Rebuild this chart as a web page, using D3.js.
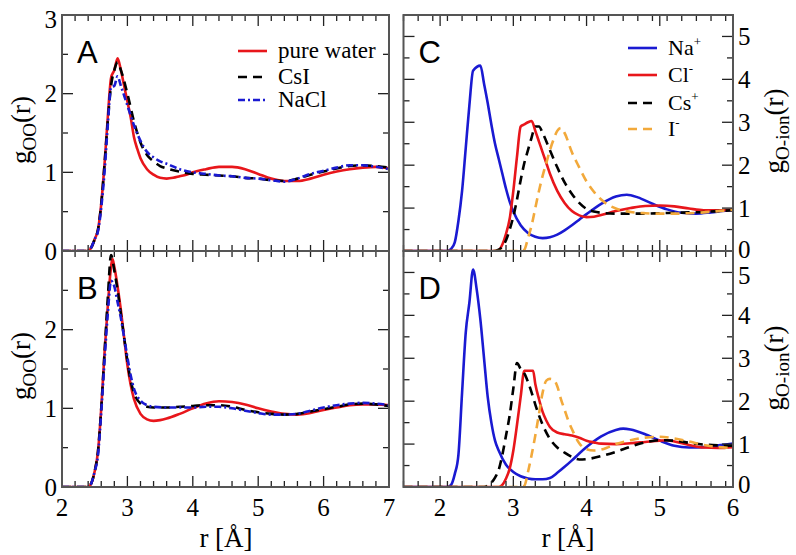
<!DOCTYPE html>
<html><head><meta charset="utf-8">
<script src="https://cdn.jsdelivr.net/npm/d3@7"></script>
<style>
body{margin:0;background:#fff}
.serif{font-family:"Liberation Serif","Times New Roman",Times,serif}
.sans{font-family:"Liberation Sans",Arial,Helvetica,sans-serif}
</style>
</head><body>
<svg id="chart" width="796" height="555"></svg>
<script>
// ---------- DATA ----------
// Panel A : g_OO(r)
const A_water = [[2.0,0],[2.3,0],[2.4,0],[2.45,0.05],[2.5,0.15],[2.55,0.27],[2.6,0.6],[2.65,1.1],[2.7,1.7],[2.75,2.2],[2.8,2.3],[2.85,2.45],[2.9,2.3],[2.95,2.1],[3.0,1.9],[3.05,1.7],[3.1,1.45],[3.15,1.3],[3.2,1.18],[3.3,1.04],[3.4,0.97],[3.5,0.93],[3.6,0.92],[3.7,0.93],[3.8,0.95],[3.9,0.97],[4.0,1.0],[4.2,1.04],[4.4,1.07],[4.6,1.07],[4.8,1.04],[5.0,0.98],[5.2,0.92],[5.4,0.89],[5.6,0.89],[5.8,0.92],[6.0,0.97],[6.2,1.01],[6.4,1.04],[6.6,1.06],[6.8,1.07],[7.0,1.05]];
const A_CsI = [[2.0,0],[2.4,0],[2.45,0.05],[2.5,0.15],[2.55,0.27],[2.6,0.6],[2.65,1.1],[2.7,1.65],[2.75,2.1],[2.8,2.3],[2.85,2.4],[2.9,2.3],[3.0,2.0],[3.1,1.65],[3.2,1.38],[3.3,1.22],[3.4,1.14],[3.5,1.08],[3.6,1.05],[3.8,1.01],[4.0,0.98],[4.2,0.97],[4.4,0.96],[4.6,0.95],[4.8,0.93],[5.0,0.92],[5.2,0.9],[5.4,0.89],[5.6,0.92],[5.8,0.97],[6.0,1.01],[6.2,1.05],[6.4,1.08],[6.6,1.09],[6.8,1.08],[7.0,1.06]];
const A_NaCl = [[2.0,0],[2.4,0],[2.45,0.05],[2.5,0.15],[2.55,0.25],[2.6,0.55],[2.65,1.0],[2.7,1.6],[2.75,2.08],[2.8,2.1],[2.85,2.22],[2.9,2.1],[3.0,1.85],[3.1,1.6],[3.2,1.4],[3.3,1.26],[3.4,1.19],[3.5,1.14],[3.6,1.11],[3.8,1.04],[4.0,1.0],[4.2,0.98],[4.4,0.96],[4.6,0.95],[4.8,0.93],[5.0,0.92],[5.2,0.9],[5.4,0.88],[5.6,0.92],[5.8,0.98],[6.0,1.02],[6.2,1.06],[6.4,1.09],[6.6,1.09],[6.8,1.07],[7.0,1.04]];
// Panel B : g_OO(r)
const B_water = [[2.0,0],[2.4,0],[2.45,0.05],[2.5,0.2],[2.55,0.45],[2.6,1.0],[2.65,1.7],[2.7,2.3],[2.75,2.8],[2.77,2.9],[2.8,2.8],[2.85,2.55],[2.9,2.25],[2.95,1.9],[3.0,1.55],[3.05,1.3],[3.1,1.12],[3.2,0.93],[3.3,0.86],[3.4,0.84],[3.5,0.85],[3.6,0.87],[3.8,0.93],[4.0,1.0],[4.2,1.06],[4.4,1.09],[4.6,1.08],[4.8,1.05],[5.0,1.0],[5.2,0.96],[5.4,0.93],[5.6,0.92],[5.8,0.94],[6.0,0.98],[6.2,1.01],[6.4,1.04],[6.6,1.05],[6.8,1.05],[7.0,1.04]];
const B_CsI = [[2.0,0],[2.4,0],[2.45,0.05],[2.5,0.2],[2.55,0.45],[2.6,1.0],[2.65,1.7],[2.7,2.4],[2.75,2.95],[2.8,2.75],[2.85,2.5],[2.9,2.2],[2.95,1.9],[3.0,1.6],[3.05,1.35],[3.1,1.2],[3.2,1.06],[3.3,1.02],[3.4,1.01],[3.6,1.01],[3.8,1.02],[4.0,1.03],[4.2,1.04],[4.4,1.04],[4.6,1.02],[4.8,0.98],[5.0,0.95],[5.2,0.93],[5.4,0.92],[5.6,0.93],[5.8,0.96],[6.0,0.99],[6.2,1.02],[6.4,1.05],[6.6,1.06],[6.8,1.05],[7.0,1.03]];
const B_NaCl = [[2.0,0],[2.4,0],[2.45,0.05],[2.5,0.2],[2.55,0.4],[2.6,0.95],[2.65,1.6],[2.7,2.2],[2.75,2.62],[2.8,2.55],[2.85,2.35],[2.9,2.15],[2.95,1.9],[3.0,1.65],[3.05,1.42],[3.1,1.25],[3.2,1.1],[3.3,1.04],[3.4,1.02],[3.6,1.01],[3.8,1.01],[4.0,1.01],[4.2,1.02],[4.4,1.02],[4.6,1.0],[4.8,0.97],[5.0,0.94],[5.2,0.92],[5.4,0.92],[5.6,0.93],[5.8,0.97],[6.0,1.01],[6.2,1.04],[6.4,1.06],[6.6,1.07],[6.8,1.06],[7.0,1.04]];
// Panel C : g_O-ion(r)
const C_Na = [[1.5,0],[2.1,0],[2.15,0.05],[2.2,0.2],[2.25,0.7],[2.3,1.4],[2.35,2.4],[2.4,3.4],[2.45,4.2],[2.55,4.32],[2.6,3.9],[2.65,3.45],[2.7,2.95],[2.75,2.5],[2.8,2.15],[2.85,1.8],[2.9,1.45],[2.95,1.15],[3.0,0.92],[3.1,0.6],[3.2,0.42],[3.3,0.33],[3.4,0.3],[3.5,0.32],[3.6,0.38],[3.7,0.48],[3.8,0.6],[3.9,0.73],[4.0,0.86],[4.2,1.1],[4.4,1.27],[4.55,1.31],[4.7,1.25],[4.9,1.1],[5.1,0.97],[5.3,0.89],[5.5,0.87],[5.7,0.9],[5.9,0.94],[6.0,0.95]];
const C_Cl = [[1.5,0],[2.75,0],[2.8,0.02],[2.85,0.15],[2.9,0.4],[2.95,0.75],[3.0,1.4],[3.05,2.2],[3.1,2.9],[3.15,2.95],[3.2,3.0],[3.25,3.03],[3.3,2.8],[3.35,2.55],[3.4,2.3],[3.45,2.05],[3.5,1.8],[3.6,1.4],[3.7,1.12],[3.8,0.93],[3.9,0.83],[4.0,0.79],[4.1,0.8],[4.2,0.84],[4.4,0.93],[4.6,1.0],[4.8,1.05],[5.0,1.06],[5.2,1.04],[5.4,0.99],[5.6,0.95],[5.8,0.95],[6.0,0.96]];
const C_Cs = [[1.5,0],[2.75,0],[2.8,0.03],[2.85,0.1],[2.9,0.25],[2.95,0.5],[3.0,0.8],[3.05,1.2],[3.1,1.65],[3.15,2.05],[3.2,2.35],[3.25,2.65],[3.3,2.9],[3.35,2.9],[3.4,2.75],[3.5,2.35],[3.6,1.95],[3.7,1.6],[3.8,1.33],[3.9,1.12],[4.0,0.98],[4.1,0.92],[4.2,0.89],[4.4,0.87],[4.6,0.87],[4.8,0.87],[5.0,0.88],[5.2,0.89],[5.4,0.9],[5.6,0.91],[5.8,0.93],[6.0,0.95]];
const C_I = [[1.5,0],[3.1,0],[3.15,0.03],[3.2,0.3],[3.25,0.6],[3.3,1.0],[3.35,1.4],[3.4,1.75],[3.45,2.05],[3.5,2.35],[3.55,2.6],[3.6,2.8],[3.65,2.87],[3.7,2.75],[3.8,2.3],[3.9,1.95],[4.0,1.62],[4.1,1.38],[4.2,1.2],[4.3,1.07],[4.4,0.99],[4.6,0.91],[4.8,0.88],[5.0,0.87],[5.2,0.87],[5.4,0.88],[5.6,0.9],[5.8,0.93],[6.0,0.96]];
// Panel D : g_O-ion(r)
const D_Na = [[1.5,0],[2.1,0],[2.15,0.05],[2.2,0.3],[2.25,0.75],[2.3,2.2],[2.35,3.6],[2.4,4.3],[2.45,5.07],[2.5,4.6],[2.55,3.9],[2.6,3.0],[2.65,2.1],[2.7,1.5],[2.75,1.08],[2.8,0.85],[2.9,0.52],[3.0,0.35],[3.1,0.25],[3.2,0.2],[3.3,0.18],[3.4,0.18],[3.5,0.21],[3.6,0.33],[3.7,0.47],[3.8,0.62],[3.9,0.78],[4.0,0.93],[4.2,1.18],[4.4,1.33],[4.5,1.36],[4.6,1.34],[4.8,1.23],[5.0,1.08],[5.2,0.96],[5.4,0.92],[5.6,0.93],[5.8,0.97],[6.0,1.01]];
const D_Cl = [[1.5,0],[2.8,0],[2.85,0.05],[2.9,0.2],[2.95,0.43],[3.0,0.85],[3.05,1.45],[3.1,2.1],[3.15,2.71],[3.27,2.71],[3.3,2.4],[3.35,2.05],[3.4,1.75],[3.45,1.55],[3.5,1.4],[3.6,1.27],[3.7,1.23],[3.8,1.2],[3.9,1.15],[4.0,1.08],[4.1,1.04],[4.2,1.01],[4.4,1.0],[4.6,1.02],[4.8,1.05],[5.0,1.08],[5.1,1.09],[5.2,1.06],[5.4,0.98],[5.6,0.92],[5.8,0.91],[6.0,0.93]];
const D_Cs = [[1.5,0],[2.6,0],[2.65,0.03],[2.7,0.1],[2.75,0.22],[2.8,0.4],[2.85,0.75],[2.9,1.2],[2.95,1.67],[3.0,2.3],[3.05,2.89],[3.1,2.75],[3.15,2.65],[3.2,2.45],[3.25,2.2],[3.3,1.92],[3.4,1.45],[3.5,1.12],[3.6,0.92],[3.7,0.8],[3.8,0.7],[3.9,0.64],[4.0,0.65],[4.2,0.72],[4.4,0.82],[4.6,0.94],[4.8,1.04],[5.0,1.09],[5.2,1.08],[5.4,1.03],[5.6,0.99],[5.8,0.97],[6.0,0.96]];
const D_I = [[1.5,0],[3.1,0],[3.15,0.03],[3.2,0.35],[3.25,0.75],[3.3,1.2],[3.35,1.7],[3.4,2.2],[3.45,2.48],[3.5,2.52],[3.55,2.5],[3.6,2.35],[3.65,2.05],[3.7,1.8],[3.75,1.55],[3.8,1.35],[3.9,1.02],[4.0,0.88],[4.1,0.85],[4.2,0.87],[4.3,0.93],[4.4,1.0],[4.6,1.09],[4.8,1.15],[5.0,1.17],[5.2,1.13],[5.4,1.06],[5.6,0.98],[5.8,0.93],[6.0,0.91]];

const leftXTicks = [2,3,4,5,6,7];
const rightXTicks = [2,3,4,5,6];
const leftYTicksA = [0,1,2,3];
const leftYTicksB = [0,1,2];
const rightYTicks = [0,1,2,3,4,5];
const legendLeft = ["pure water","CsI","NaCl"];
const legendRight = [["Na","+"],["Cl","-"],["Cs","+"],["I","-"]];

// ---------- STYLES ----------
const RED = "#e8161b", BLUE = "#1a1ad2", ORANGE = "#f2a93b", BLACK = "#000";
const styles = {
  water:{color:RED, dash:null},
  CsI:{color:BLACK, dash:"9,6"},
  NaCl:{color:BLUE, dash:"7,3,2,3"},
  Na:{color:BLUE, dash:null},
  Cl:{color:RED, dash:null},
  Cs:{color:BLACK, dash:"9,6"},
  I:{color:ORANGE, dash:"9,6"}
};

const svg = d3.select("#chart");

const xL = d3.scaleLinear().domain([2,7]).range([62,389]);
const xR = d3.scaleLinear().domain([1.5,6]).range([403.5,733]);
const yA = d3.scaleLinear().domain([0,3]).range([251,15]);
const yB = d3.scaleLinear().domain([0,3]).range([487,251]);
const yC = d3.scaleLinear().domain([0,5.5]).range([251,15]);
const yD = d3.scaleLinear().domain([0,5.5]).range([487,251]);

const panels = [
  {id:"A", x:xL, y:yA, series:[[A_water,"water"],[A_CsI,"CsI"],[A_NaCl,"NaCl"]]},
  {id:"B", x:xL, y:yB, series:[[B_water,"water"],[B_CsI,"CsI"],[B_NaCl,"NaCl"]]},
  {id:"C", x:xR, y:yC, series:[[C_Na,"Na"],[C_Cl,"Cl"],[C_Cs,"Cs"],[C_I,"I"]]},
  {id:"D", x:xR, y:yD, series:[[D_Na,"Na"],[D_Cl,"Cl"],[D_Cs,"Cs"],[D_I,"I"]]}
];

const defs = svg.append("defs");
const MAJ = 11, MIN = 6;

function range(a,b,s){const out=[];for(let v=a;v<=b+1e-9;v+=s)out.push(+v.toFixed(3));return out;}

panels.forEach(p=>{
  const [x0,x1] = p.x.range(), [y1,y0] = p.y.range();
  const g = svg.append("g");
  defs.append("clipPath").attr("id","clip"+p.id).append("rect")
    .attr("x",x0).attr("y",y0).attr("width",x1-x0).attr("height",y1-y0);

  const line = d3.line().x(d=>p.x(d[0])).y(d=>p.y(d[1])).curve(d3.curveMonotoneX);
  const cg = g.append("g").attr("clip-path",`url(#clip${p.id})`);
  p.series.forEach(([data,key])=>{
    const st = styles[key];
    cg.append("path").attr("d",line(data)).attr("fill","none")
      .attr("stroke",st.color).attr("stroke-width",2.6)
      .attr("stroke-dasharray",st.dash).attr("stroke-linejoin","round");
  });

  const dom = p.x.domain(), ydom = p.y.domain();
  const xMaj = range(Math.ceil(dom[0]),dom[1],1);
  const xMin = range(dom[0],dom[1],0.2).filter(v=>Math.abs(v-Math.round(v))>1e-6);
  const yMaj = range(0,Math.floor(ydom[1]),1);
  const yMin = range(0.5,ydom[1],1);
  const tg = g.append("g").attr("stroke","#222").attr("stroke-width",1.3);
  [[xMaj,MAJ],[xMin,MIN]].forEach(([vals,len])=>{
    vals.forEach(v=>{
      const xx = p.x(v);
      tg.append("line").attr("x1",xx).attr("x2",xx).attr("y1",y1).attr("y2",y1-len);
      tg.append("line").attr("x1",xx).attr("x2",xx).attr("y1",y0).attr("y2",y0+len);
    });
  });
  [[yMaj,MAJ],[yMin,MIN]].forEach(([vals,len])=>{
    vals.forEach(v=>{
      const yy = p.y(v);
      tg.append("line").attr("y1",yy).attr("y2",yy).attr("x1",x0).attr("x2",x0+len);
      tg.append("line").attr("y1",yy).attr("y2",yy).attr("x1",x1).attr("x2",x1-len);
    });
  });

  g.append("rect").attr("x",x0).attr("y",y0).attr("width",x1-x0).attr("height",y1-y0)
    .attr("fill","none").attr("stroke","#555").attr("stroke-width",2);

  g.append("text").attr("class","sans").attr("x",x0+15).attr("y",y0+48).text(p.id)
    .style("font-size","31px").attr("fill","#000");
});

// tick labels
const tl = svg.append("g").attr("class","serif").style("font-size","25px").attr("fill","#000");
leftYTicksA.forEach(v=>tl.append("text").attr("x",57).attr("y",yA(v) + (v===3?4:0)).attr("dy","0.34em").attr("text-anchor","end").text(v));
leftYTicksB.forEach(v=>tl.append("text").attr("x",57).attr("y",yB(v)).attr("dy","0.34em").attr("text-anchor","end").text(v));
rightYTicks.forEach(v=>tl.append("text").attr("x",738).attr("y",yC(v) - (v===0?2:0)).attr("dy","0.34em").attr("text-anchor","start").text(v));
rightYTicks.forEach(v=>tl.append("text").attr("x",738).attr("y",yD(v) + (v===5?3:0) - (v===0?3:0)).attr("dy","0.34em").attr("text-anchor","start").text(v));
leftXTicks.forEach(v=>tl.append("text").attr("x",xL(v)).attr("y",516).attr("text-anchor","middle").text(v));
rightXTicks.forEach(v=>tl.append("text").attr("x",xR(v)).attr("y",516).attr("text-anchor","middle").text(v));

// axis titles
function yTitle(x,y,sub){
  const t = svg.append("text").attr("class","serif").attr("transform",`translate(${x},${y}) rotate(-90)`)
    .attr("text-anchor","middle").style("font-size","27px").attr("fill","#000");
  t.append("tspan").text("g");
  t.append("tspan").style("font-size","19px").attr("dy",6).text(sub);
  t.append("tspan").attr("dy",-6).text("(r)");
}
yTitle(30,130,"OO");
yTitle(30,366,"OO");
yTitle(783,131,"O-ion");
yTitle(783,368,"O-ion");
[226,568].forEach(cx=>{
  svg.append("text").attr("class","serif").attr("x",cx).attr("y",547).attr("text-anchor","middle")
    .style("font-size","27px").attr("fill","#000").text("r [Å]");
});

// legends
const legL = [["water",51],["CsI",77],["NaCl",100]];
legL.forEach(([k,yy],i)=>{
  const st = styles[k];
  svg.append("line").attr("x1",238).attr("x2",267).attr("y1",yy).attr("y2",yy)
    .attr("stroke",st.color).attr("stroke-width",2.6).attr("stroke-dasharray",st.dash);
  svg.append("text").attr("class","serif").attr("x",278).attr("y",yy+7).style("font-size","23px").text(legendLeft[i]);
});
const legR = [["Na",48],["Cl",75],["Cs",103],["I",129]];
legR.forEach(([k,yy],i)=>{
  const st = styles[k];
  svg.append("line").attr("x1",628).attr("x2",657).attr("y1",yy).attr("y2",yy)
    .attr("stroke",st.color).attr("stroke-width",2.6).attr("stroke-dasharray",st.dash);
  const t = svg.append("text").attr("class","serif").attr("x",668).attr("y",yy+7).style("font-size","22px");
  t.append("tspan").text(legendRight[i][0]);
  t.append("tspan").style("font-size","13px").attr("dy",-9).text(legendRight[i][1]);
});
</script>
</body></html>
